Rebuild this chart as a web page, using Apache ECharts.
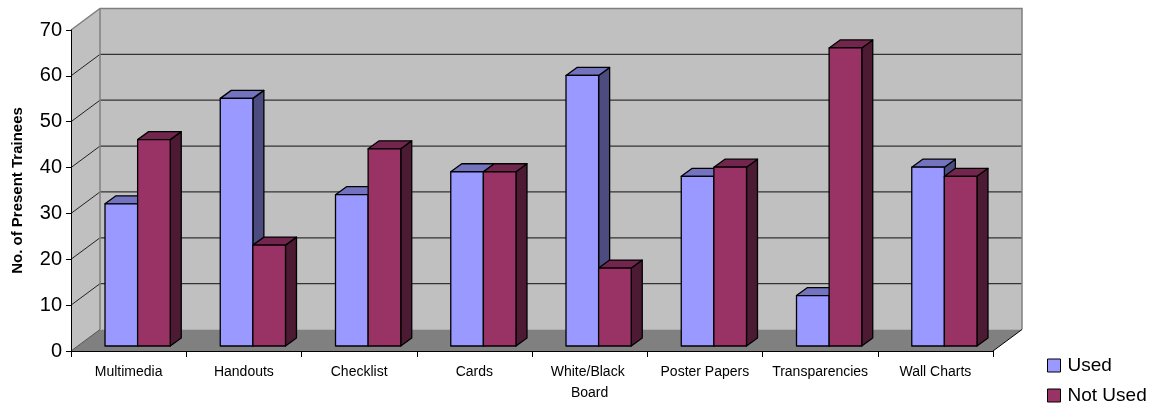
<!DOCTYPE html>
<html>
<head>
<meta charset="utf-8">
<script src="https://cdn.jsdelivr.net/npm/echarts@6/dist/echarts.min.js"></script>
<style>
  html, body { margin: 0; padding: 0; background: #fff; }
  #chart { width: 1161px; height: 406px; }
</style>
</head>
<body>
<div id="chart"></div>
<script>
// Teaching aids: trainees who used / did not use each aid
const categories = ['Multimedia', 'Handouts', 'Checklist', 'Cards', 'White/Black Board', 'Poster Papers', 'Transparencies', 'Wall Charts'];
const usedValues = [31, 54, 33, 38, 59, 37, 11, 39];
const notUsedValues = [45, 22, 43, 38, 17, 39, 65, 37];
const yTicks = [0, 10, 20, 30, 40, 50, 60, 70];
const seriesNames = ['Used', 'Not Used'];

// 3D look: depth of the chart box and of the bars (pixels)
const BOX_DX = 29, BOX_DY = -21.5;
const BAR_SHIFT_X = 9, BAR_SHIFT_Y = -5;
const BAR_DX = 11, BAR_DY = -8;

const palettes = [
  { front: '#9999FF', top: '#7373C0', side: '#4C4C80' },
  { front: '#993366', top: '#73264D', side: '#4D1A33' }
];

function boxRender(params, api) {
  const cs = params.coordSys;
  const x0 = cs.x, x1 = cs.x + cs.width;
  const yMin = yTicks[0], yMax = yTicks[yTicks.length - 1];
  const yz = api.coord([0, yMin])[1];
  const yt = api.coord([0, yMax])[1];
  const children = [];
  const plain = function (stroke, w) { return { fill: 'none', stroke: stroke, lineWidth: w }; };
  // back wall
  children.push({ type: 'polygon', shape: { points: [[x0 + BOX_DX, yt + BOX_DY], [x1 + BOX_DX, yt + BOX_DY], [x1 + BOX_DX, yz + BOX_DY], [x0 + BOX_DX, yz + BOX_DY]] }, style: { fill: '#C0C0C0', stroke: 'none' } });
  // left wall
  children.push({ type: 'polygon', shape: { points: [[x0, yt], [x0 + BOX_DX, yt + BOX_DY], [x0 + BOX_DX, yz + BOX_DY], [x0, yz]] }, style: { fill: '#C0C0C0', stroke: 'none' } });
  // floor
  children.push({ type: 'polygon', shape: { points: [[x0, yz], [x0 + BOX_DX, yz + BOX_DY], [x1 + BOX_DX, yz + BOX_DY], [x1, yz]] }, style: { fill: '#808080', stroke: 'none' } });
  // gridlines on walls
  yTicks.forEach(function (v) {
    if (v === yMin || v === yMax) return;
    const y = api.coord([0, v])[1];
    children.push({ type: 'line', shape: { x1: x0 + BOX_DX, y1: y + BOX_DY, x2: x1 + BOX_DX, y2: y + BOX_DY }, style: plain('#333', 1.2) });
    children.push({ type: 'line', shape: { x1: x0, y1: y, x2: x0 + BOX_DX, y2: y + BOX_DY }, style: plain('#222', 1) });
  });
  // outer edges of the box
  children.push({ type: 'polyline', shape: { points: [[x0, yt], [x0 + BOX_DX, yt + BOX_DY], [x1 + BOX_DX, yt + BOX_DY], [x1 + BOX_DX, yz + BOX_DY]] }, style: plain('#808080', 1.5) });
  children.push({ type: 'line', shape: { x1: x0 + BOX_DX, y1: yt + BOX_DY, x2: x0 + BOX_DX, y2: yz + BOX_DY }, style: plain('#808080', 1.5) });
  children.push({ type: 'line', shape: { x1: x1, y1: yz, x2: x1 + BOX_DX, y2: yz + BOX_DY }, style: plain('#000', 1) });
  children.push({ type: 'line', shape: { x1: x0, y1: yz, x2: x0 + BOX_DX, y2: yz + BOX_DY }, style: plain('#555', 1) });
  return { type: 'group', children: children };
}

function barRender(which) {
  const pal = palettes[which];
  return function (params, api) {
    const idx = api.value(0), val = api.value(1);
    const band = api.size([1, 0])[0];
    const w = band * 0.283;
    const base = api.coord([idx, 0]);
    const top = api.coord([idx, val]);
    const xa = base[0] + BAR_SHIFT_X + (which === 0 ? -w : 0);
    const xb = xa + w;
    const yb = base[1] + BAR_SHIFT_Y;
    const yt = top[1] + BAR_SHIFT_Y;
    const line = { stroke: '#000', lineWidth: 1.3, lineJoin: 'round' };
    return {
      type: 'group',
      children: [
        { type: 'polygon', shape: { points: [[xb, yb], [xb + BAR_DX, yb + BAR_DY], [xb + BAR_DX, yt + BAR_DY], [xb, yt]] }, style: Object.assign({ fill: pal.side }, line) },
        { type: 'polygon', shape: { points: [[xa, yt], [xb, yt], [xb + BAR_DX, yt + BAR_DY], [xa + BAR_DX, yt + BAR_DY]] }, style: Object.assign({ fill: pal.top }, line) },
        { type: 'polygon', shape: { points: [[xa, yb], [xb, yb], [xb, yt], [xa, yt]] }, style: Object.assign({ fill: pal.front }, line) }
      ]
    };
  };
}

const chart = echarts.init(document.getElementById('chart'), null, { renderer: 'canvas' });
const font = 'Liberation Sans, Arial, sans-serif';

chart.setOption({
  backgroundColor: '#fff',
  animation: false,
  grid: { left: 71, right: 168, top: 30, bottom: 55, containLabel: false },
  legend: {
    orient: 'vertical',
    left: 1047,
    top: 356,
    height: 80,
    padding: 0,
    itemWidth: 13,
    itemHeight: 13,
    itemGap: 11,
    icon: 'rect',
    textStyle: { fontFamily: font, fontSize: 19, color: '#000', padding: [0, 0, 0, 2] },
    data: seriesNames.map(function (n, i) {
      return { name: n, itemStyle: { color: palettes[i].front, borderColor: '#000', borderWidth: 1 } };
    })
  },
  xAxis: {
    type: 'category',
    data: categories,
    boundaryGap: true,
    axisLine: { show: true, lineStyle: { color: '#000', width: 1 } },
    axisTick: { show: true, length: 6, lineStyle: { color: '#000' } },
    axisLabel: {
      color: '#000', fontFamily: font, fontSize: 14, margin: 11,
      interval: 0, width: 104, overflow: 'break', lineHeight: 21
    },
    splitLine: { show: false }
  },
  yAxis: {
    type: 'value',
    min: 0, max: 70, interval: 10,
    name: 'No. of Present Trainees',
    nameLocation: 'middle',
    nameGap: 46,
    nameTextStyle: { fontFamily: font, fontSize: 15, fontWeight: 'bold', color: '#000' },
    axisLine: { show: true, lineStyle: { color: '#000', width: 1 } },
    axisTick: { show: true, length: 5, lineStyle: { color: '#000' } },
    axisLabel: { color: '#000', fontFamily: font, fontSize: 20, margin: 9 },
    splitLine: { show: false }
  },
  series: [
    {
      type: 'custom', name: '_box', z: -1, silent: true,
      renderItem: boxRender, data: [[0, 0]]
    },
    {
      type: 'custom', name: seriesNames[0], z: 2,
      itemStyle: { color: palettes[0].front },
      renderItem: barRender(0),
      data: usedValues.map(function (v, i) { return [i, v]; })
    },
    {
      type: 'custom', name: seriesNames[1], z: 3,
      itemStyle: { color: palettes[1].front },
      renderItem: barRender(1),
      data: notUsedValues.map(function (v, i) { return [i, v]; })
    }
  ]
});
</script>
</body>
</html>
